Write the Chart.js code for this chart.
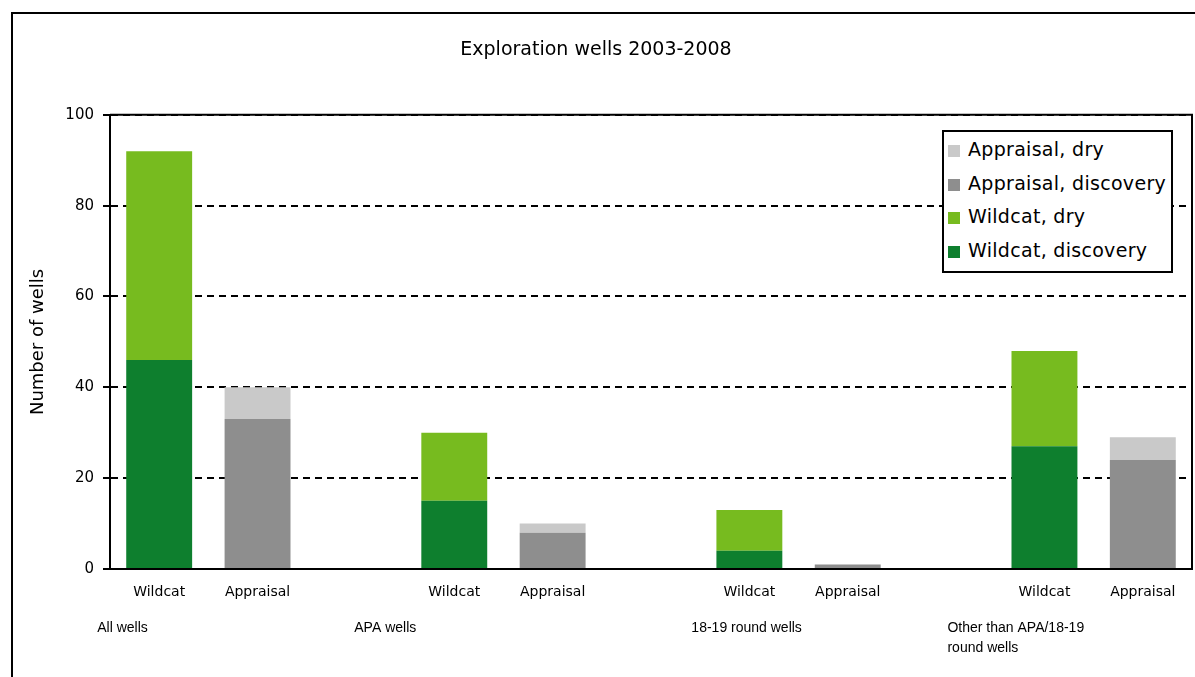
<!DOCTYPE html>
<html>
<head>
<meta charset="utf-8">
<script src="https://cdn.jsdelivr.net/npm/chart.js@4"></script>
<style>
  html, body { margin: 0; padding: 0; background: #fff; overflow: hidden; }
  #frame { position: absolute; left: 11px; top: 12px; width: 1220px; height: 720px; border: 2px solid #000; }
  #wrap { position: absolute; left: 0; top: 0; width: 1195px; height: 677px; }
  #legendBox {
    position: absolute; left: 942px; top: 130px; width: 227px; height: 139px;
    border: 2px solid #000; background: #fff; font-family: "DejaVu Sans"; font-size: 19px;
    letter-spacing: 0.3px; box-sizing: content-box;
  }
  #legendBox div { height: 33.5px; line-height: 35px; white-space: nowrap; padding-left: 4px; }
  #legendBox span.sw { display: inline-block; width: 12px; height: 12px; margin-right: 8px; vertical-align: -1px; }
</style>
</head>
<body>
<div id="frame"></div>
<div id="wrap"><canvas id="chart" width="1195" height="677"></canvas></div>
<div id="legendBox"></div>
<script>
const groups = ['All wells', 'APA wells', '18-19 round wells', ['Other than APA/18-19', 'round wells']];
const barLabels = ['Wildcat', 'Appraisal'];
const wildcatDiscovery = [46, 15, 4, 27];
const wildcatDry = [46, 15, 9, 21];
const appraisalDiscovery = [33, 8, 1, 24];
const appraisalDry = [7, 2, 0, 5];
const yTicks = [0, 20, 40, 60, 80, 100];

// 3 slots per group (wildcat, appraisal, gap) except after the last one
const categories = [];
const slot = (wild, appr) => {
    const out = [];
    groups.forEach((g, i) => {
        out.push(wild ? wild[i] : null, appr ? appr[i] : null);
        if (i < groups.length - 1) out.push(null);
    });
    return out;
};
groups.forEach((g, i) => {
    categories.push(barLabels[0], barLabels[1]);
    if (i < groups.length - 1) categories.push('');
});

const colors = {
    wDisc: '#0e7f2e',
    wDry: '#77bb1f',
    aDisc: '#8e8e8e',
    aDry: '#c9c9c9'
};

const groupLabels = {
    id: 'groupLabels',
    afterDraw(chart) {
        const ctx = chart.ctx;
        const x = chart.scales.x;
        const offsets = [-62, -100, -58, -97];
        ctx.save();
        ctx.font = '14px "Liberation Sans"';
        ctx.fillStyle = '#000';
        ctx.textAlign = 'left';
        ctx.textBaseline = 'middle';
        groups.forEach((g, i) => {
            const px = x.getPixelForValue(i * 3) + offsets[i];
            const lines = Array.isArray(g) ? g : [g];
            lines.forEach((t, j) => ctx.fillText(t, px, 628 + j * 20));
        });
        ctx.restore();
    }
};

const plotBorder = {
    id: 'plotBorder',
    afterDatasetsDraw(chart) {
        const { ctx, chartArea: a } = chart;
        ctx.save();
        ctx.strokeStyle = '#000';
        ctx.lineWidth = 2;
        ctx.beginPath();
        ctx.moveTo(a.left, a.top);
        ctx.lineTo(a.right, a.top);
        ctx.lineTo(a.right, a.bottom);
        ctx.stroke();
        ctx.restore();
    }
};

const data = {
    labels: categories,
    datasets: [
        { label: 'Wildcat, discovery', data: slot(wildcatDiscovery, null), backgroundColor: colors.wDisc },
        { label: 'Wildcat, dry', data: slot(wildcatDry, null), backgroundColor: colors.wDry },
        { label: 'Appraisal, discovery', data: slot(null, appraisalDiscovery), backgroundColor: colors.aDisc },
        { label: 'Appraisal, dry', data: slot(null, appraisalDry), backgroundColor: colors.aDry }
    ]
};

const config = {
    type: 'bar',
    data: data,
    options: {
        responsive: false,
        animation: false,
        barPercentage: 0.67,
        categoryPercentage: 1,
        layout: { padding: { left: 0, right: 3, top: 0, bottom: 0 } },
        plugins: {
            legend: { display: false },
            tooltip: { enabled: false },
            title: {
                display: true,
                text: 'Exploration wells 2003-2008',
                color: '#000',
                font: { family: 'DejaVu Sans', size: 19, weight: 'normal' },
                padding: { top: 39, bottom: 53 }
            }
        },
        scales: {
            x: {
                stacked: true,
                grid: { display: false },
                border: { display: true, color: '#000', width: 2 },
                ticks: {
                    color: '#000',
                    padding: 7,
                    maxRotation: 0,
                    autoSkip: false,
                    font: { family: 'DejaVu Sans', size: 14 }
                },
                afterFit(scale) { scale.height = 108; }
            },
            y: {
                stacked: true,
                min: 0,
                max: 100,
                afterBuildTicks(scale) { scale.ticks = yTicks.map(v => ({ value: v })); },
                grid: {
                    color: '#000',
                    lineWidth: 2,
                    tickLength: 7,
                    tickBorderDash: [],
                    tickColor: '#000'
                },
                border: { display: true, color: '#000', width: 2, dash: [7, 5] },
                ticks: {
                    color: '#000',
                    padding: 9,
                    font: { family: 'DejaVu Sans', size: 15 }
                },
                title: {
                    display: true,
                    text: 'Number of wells',
                    color: '#000',
                    font: { family: 'DejaVu Sans', size: 18 },
                    padding: { top: 28, bottom: 0 }
                },
                afterFit(scale) { scale.width = 110; }
            }
        }
    },
    plugins: [plotBorder, groupLabels]
};

const chart = new Chart(document.getElementById('chart'), config);

// legend box, reversed stacking order
const legendBox = document.getElementById('legendBox');
chart.data.datasets.slice().reverse().forEach(ds => {
    const row = document.createElement('div');
    row.innerHTML = '<span class="sw" style="background:' + ds.backgroundColor + '"></span>' + ds.label;
    legendBox.appendChild(row);
});
</script>
</body>
</html>
